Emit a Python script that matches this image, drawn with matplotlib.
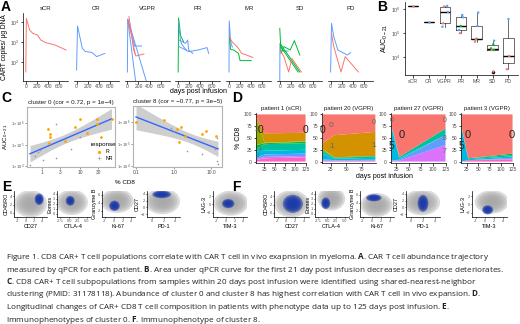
import numpy as np
import matplotlib.pyplot as plt
from matplotlib.patches import Ellipse

plt.rcParams['font.family'] = ['Liberation Sans', 'DejaVu Sans']
plt.rcParams['mathtext.fontset'] = 'custom'
plt.rcParams['mathtext.rm'] = 'Liberation Sans'
plt.rcParams['mathtext.it'] = 'Liberation Sans:italic'
plt.rcParams['mathtext.bf'] = 'Open Sans:bold'

RED, GREEN, BLUE = '#F8766D', '#00BA38', '#619CFF'
GREY_TXT = '#4D4D4D'

# ---------------- A: qPCR trajectories (day, log10 copies) ----------------
traj_scr = [(RED, [0, 11, 69, 126, 211, 269, 354, 526, 725],
             [1.5, 4.18, 3.6, 3.43, 3.35, 3.1, 2.97, 2.85, 2.6])]
traj_cr = [(BLUE, [0, 17, 103, 160, 274, 330, 360, 510],
            [1.6, 3.8, 2.68, 2.52, 2.48, 2.35, 2.27, 2.43])]
traj_vgpr = [(BLUE, [0, 7, 345], [1.5, 4.15, 1.0]),
             (BLUE, [7, 150], [4.1, 1.0]),
             (BLUE, [10, 130, 257], [4.1, 2.8, 2.8]),
             (RED, [28, 57, 114, 154, 297], [4.27, 3.77, 2.6, 2.3, 2.4]),
             (RED, [7, 70, 140], [4.0, 3.4, 2.4])]
traj_pr = [(GREEN, [0, 7, 45, 100], [1.5, 4.2, 3.3, 3.0]),
           (BLUE, [5, 40, 60, 100, 150], [4.0, 3.1, 2.9, 2.75, 2.6]),
           (BLUE, [17, 188, 360, 520, 548], [2.77, 2.52, 2.6, 2.72, 2.43]),
           (BLUE, [17, 131, 171, 188, 263], [3.1, 2.93, 3.1, 2.6, 2.43])]
traj_mr = [(BLUE, [0, 5, 30, 60], [1.5, 4.05, 3.0, 2.75]),
           (GREEN, [10, 29, 86, 171, 200, 400], [3.2, 2.63, 2.6, 2.43, 2.07, 2.07]),
           (RED, [5, 57, 114, 171, 228, 314, 428], [3.27, 3.0, 2.85, 2.68, 2.43, 2.35, 2.23])]
traj_sd = [(BLUE, [0, 3, 60, 150], [1.0, 2.9, 2.55, 2.55]),
           (GREEN, [0, 23, 74, 188, 263, 360], [3.68, 2.43, 2.77, 2.6, 3.07, 2.35]),
           (GREEN, [6, 360], [2.93, 1.5]),
           (GREEN, [17, 330], [2.77, 1.5]),
           (RED, [6, 74, 160, 217, 388], [2.6, 2.27, 1.5, 2.18, 1.5])]
traj_pd = [(BLUE, [0, 17, 57, 131, 245, 303, 360], [1.5, 3.93, 3.27, 2.6, 2.43, 2.35, 2.47]),
           (RED, [17, 57, 188, 263, 500], [3.43, 2.77, 1.5, 2.27, 1.5])]
a_names = ['sCR', 'CR', 'VGPR', 'PR', 'MR', 'SD', 'PD']
a_trajs = [traj_scr, traj_cr, traj_vgpr, traj_pr, traj_mr, traj_sd, traj_pd]

# ---------------- B: AUC (log10) by response ----------------
auc_cats = ['sCR', 'CR', 'VGPR', 'PR', 'MR', 'SD', 'PD']
auc_vals = [[6.12], [5.47], [6.125, 6.1, 5.875, 5.40, 5.26],
            [5.75, 5.65, 5.29, 5.125, 4.99], [5.85, 5.29, 4.76, 4.74, 4.64],
            [4.68, 4.53, 4.36, 4.29, 4.29, 3.39], [5.58, 4.04, 3.49]]
auc_cols = [[RED], [BLUE], [BLUE, RED, BLUE, RED, BLUE],
            [BLUE, BLUE, GREEN, BLUE, RED], [BLUE, BLUE, GREEN, RED, RED],
            [BLUE, GREEN, GREEN, GREEN, RED, RED], [BLUE, RED, RED]]
auc_jit = [[0.0], [0.0], [0.15, -0.05, 0.2, -0.1, -0.15],
           [0.1, 0.15, 0.0, -0.1, -0.05], [0.1, 0.05, 0.0, -0.05, -0.1],
           [0.1, 0.05, -0.1, 0.1, -0.05, 0.05], [0.0, 0.05, -0.1]]

# ---------------- C: % CD8 vs AUC ----------------
c0_r_x = [1.41, 1.62, 1.62, 1.53, 10, 7.4, 27.5, 27.5, 15, 4.0, 35, 68]
c0_r_y = [5.71, 5.49, 5.33, 5.05, 6.17, 5.83, 6.17, 5.94, 5.53, 5.15, 5.33, 6.2]
c0_n_x = [2.4, 0.48, 1.08, 0.89, 2.33, 5.7, 10, 0.78, 0.65]
c0_n_y = [5.94, 4.05, 4.29, 4.73, 4.35, 4.8, 5.33, 4.64, 4.45]
c8_r_x = [0.1, 0.56, 1.53, 1.25, 1.38, 2.07, 5.7, 7.4, 13.5]
c8_r_y = [6.03, 6.09, 5.79, 5.68, 5.12, 5.36, 5.45, 5.6, 5.38]
c8_n_x = [0.83, 1.02, 2.3, 5.7, 12.7, 14, 15.2, 14.4]
c8_n_y = [5.76, 5.6, 4.7, 4.55, 4.77, 4.24, 4.09, 5.27]

# ---------------- D: cluster composition (%), clusters 0..8 ----------------
clus_cols = ['#F8766D', '#D39200', '#93AA00', '#00BA38', '#00C19F',
             '#00B9E3', '#619CFF', '#DB72FB', '#FF61C3']
d_titles = ['patient 1 (sCR)', 'patient 20 (VGPR)', 'patient 27 (VGPR)', 'patient 3 (VGPR)']
d_days = [[6, 26, 125], [12, 31, 97], [15, 31, 125], [13, 28, 125]]
d_comp = [
    [[5, 40, 39], [5, 20, 18], [55, 1, 1], [8, 2, 3], [5, 14, 14],
     [14, 8, 8], [3, 5, 5], [2, 3, 3], [3, 7, 9]],
    [[61, 44, 37], [12, 47, 51], [3, 0, 0], [2, 1, 1], [5, 2, 3],
     [12, 3, 4], [3, 1, 2], [1, 0.5, 0.5], [1, 1.5, 1.5]],
    [[25, 90, 30], [0, 0, 0], [0, 0, 0], [0, 0, 0], [3, 3, 14],
     [70, 3, 0], [0, 2, 21], [0, 2, 35], [2, 0, 0]],
    [[25, 93, 83], [0, 0, 0], [0, 0, 0], [0, 0, 3], [2, 2, 3],
     [73, 2, 3], [0, 0, 2], [0, 0, 2], [0, 3, 4]],
]
# text labels: (day, %, label, size)
d_labels = [
    [(7, 67, '2', 6), (16, 67, '0', 7.5), (124, 67, '0', 7.5), (15, 28, '1', 4), (7, 13, '5', 4)],
    [(12, 67, '0', 7.5), (26, 77, '0', 6), (95, 83, '0', 5), (26, 32, '1', 6), (95, 35, '1', 6)],
    [(15, 88, '0', 5), (15, 32, '5', 7.5), (36, 56, '0', 8), (124, 88, '0', 5), (124, 49, '8', 5), (124, 21, '7', 5)],
    [(13, 32, '5', 7.5), (27, 56, '0', 8), (123, 56, '0', 8)],
]

# ---------------- E/F: immunophenotype clouds ----------------
ef_x = ['CD27', 'CTLA-4', 'Ki-67', 'PD-1', 'TIM-3']
ef_y = ['CD45RO', 'Eomes', 'Granzyme B', 'CD27', 'LAG-3']
ef_xlim = [(-2.8, 5.2), (-3.5, 6.0), (-2.6, 4.8), (-0.8, 4.8), (-2.8, 4.8)]
ef_ylim = [(-1.0, 5.3), (-0.7, 4.6), (0.5, 7.0), (-2.8, 4.8), (-3.0, 3.2)]
ef_xt = [[-2, 0, 2, 4], [-2.5, 0, 2.5, 5], [-2, 0, 2, 4], [0, 2, 4], [-2, 0, 2, 4]]
ef_xtl = [['-2', '0', '2', '4'], ['-2.5', '0.0', '2.5', '5.0'], ['-2', '0', '2', '4'],
          ['0', '2', '4'], ['-2', '0', '2', '4']]
ef_yt = [[0, 2, 4], [0, 1, 2, 3, 4], [2, 4, 6], [-2, 0, 2, 4], [-2, 0, 2]]
e_grey = [(1.2, 2.2, 4.0, 3.3), (0.8, 2.3, 4.6, 2.6), (0.8, 4.5, 3.7, 3.0),
          (1.8, 1.8, 3.0, 3.8), (1.2, 0.3, 3.9, 3.0)]
e_blue = [(3.3, 3.3, 1.1, 1.4), (0.3, 2.6, 1.3, 1.0), (0.2, 3.3, 1.2, 1.3),
          (1.7, 3.8, 1.6, 1.1), (0.6, 0.2, 1.4, 1.1)]
f_grey = [(1.2, 2.2, 4.0, 3.3), (1.2, 3.0, 4.0, 2.4), (1.0, 3.5, 3.5, 3.0),
          (1.8, 1.5, 3.0, 3.8), (1.5, 0.6, 3.7, 2.8)]
f_blue = [(1.5, 2.2, 2.3, 2.2), (-0.4, 2.1, 1.3, 1.2), (0.4, 5.3, 1.7, 0.9),
          (2.0, 1.2, 0.9, 2.5), (0.6, -1.3, 1.2, 1.1)]

caption = [
    r'Figure 1. CD8 CAR+ T cell populations correlate with CAR T cell in vivo exapnsion in myeloma. $\mathbf{A}$. CAR T cell abundance trajectory',
    r'measured by qPCR for each patient. $\mathbf{B}$. Area under qPCR curve for the first 21 day post infusion decreases as response deteriorates.',
    r'$\mathbf{C}$. CD8 CAR+ T cell subpopulations from samples within 20 days post infusion were identified using shared-nearest-neighbor',
    r'clustering (PMID: 31178118). Abundance of cluster 0 and cluster 8 has highest correlation with CAR T cell in vivo expansion. $\mathbf{D}$.',
    r'Longitudinal changes of CAR+ CD8 T cell composition in patients with phenotype data up to 125 days post infusion. $\mathbf{E}$.',
    r'Immunophenotypes of cluster 0. $\mathbf{F}$. Immunophenotype of cluster 8.',
]

W, H = 520, 324
fig = plt.figure(figsize=(W / 100, H / 100), dpi=100)


def add_ax(x0, y0, x1, y1):
    return fig.add_axes([x0 / W, 1 - y1 / H, (x1 - x0) / W, (y1 - y0) / H])


def classic(ax, fs=4.5):
    for s in ['top', 'right']:
        ax.spines[s].set_visible(False)
    for s in ['left', 'bottom']:
        ax.spines[s].set_linewidth(0.5)
    ax.tick_params(length=1.8, width=0.5, labelsize=fs, pad=1, labelcolor=GREY_TXT)


def letter(x, y, s):
    fig.text(x / W, 1 - y / H, s, fontsize=10, fontweight='bold', va='top', ha='left')


# ---- A ----
letter(1, 0, 'A')
for i, (name, lines) in enumerate(zip(a_names, a_trajs)):
    x0 = 23 + i * 50.8
    ax = add_ax(x0, 13, x0 + 45, 81)
    for col, d, v in lines:
        ax.plot(d, 10 ** np.array(v), color=col, lw=0.7)
    ax.set_yscale('log')
    ax.set_ylim(10 ** 1.05, 10 ** 4.45)
    ax.set_xlim(-50, 760)
    ax.set_xticks([0, 200, 400, 600])
    ax.minorticks_off()
    classic(ax, 3.6)
    ax.tick_params(axis='x', pad=0.6)
    ax.set_title(name, fontsize=4.3, pad=2, color='#1A1A1A')
    if i == 0:
        ax.set_yticks([1e2, 1e3, 1e4], [r'$10^{2}$', r'$10^{3}$', r'$10^{4}$'])
        ax.set_ylabel('CART copies/ μg DNA', fontsize=4.8, labelpad=1)
    else:
        ax.spines['left'].set_visible(False)
        ax.set_yticks([])
fig.text(199 / W, 1 - 92 / H, 'days post infusion', fontsize=5, ha='center', va='center')

# ---- B ----
letter(377, 0, 'B')
ax = add_ax(405, 2, 518, 75)
ax.boxplot(auc_vals, positions=range(len(auc_cats)), widths=0.65, showcaps=False,
           medianprops=dict(color='black', lw=1.0),
           boxprops=dict(color='#333333', lw=0.5),
           whiskerprops=dict(color='#333333', lw=0.5),
           flierprops=dict(marker='o', markerfacecolor='black', markeredgecolor='none', markersize=2.5))
for i, (vals, cols, jit) in enumerate(zip(auc_vals, auc_cols, auc_jit)):
    ax.scatter(np.array(jit) + i, vals, c=cols, s=3, zorder=3, linewidths=0)
ax.set_xlim(-0.5, 6.6)
ax.set_ylim(3.25, 6.29)
ax.set_xticks(range(len(auc_cats)), auc_cats)
ax.set_yticks([4, 5, 6], [r'$10^{4}$', r'$10^{5}$', r'$10^{6}$'])
classic(ax, 3.8)
ax.set_ylabel(r'AUC$_{0-21}$', fontsize=5, labelpad=1)

# ---- C ----
letter(1, 91, 'C')


def corr_panel(ax, rx, ry, nx, ny, title, xlim, xticks, xtl):
    lx = np.log10(np.r_[rx, nx])
    ly = np.r_[ry, ny]
    b, a = np.polyfit(lx, ly, 1)
    n = len(lx)
    resid = ly - (a + b * lx)
    s = np.sqrt(np.sum(resid ** 2) / (n - 2))
    gx = np.linspace(lx.min(), lx.max(), 80)
    se = s * np.sqrt(1 / n + (gx - lx.mean()) ** 2 / np.sum((lx - lx.mean()) ** 2))
    fit = a + b * gx
    ax.fill_between(10 ** gx, fit - 2.07 * se, fit + 2.07 * se, color='#BEBEBE', alpha=0.75, lw=0)
    ax.plot(10 ** gx, fit, color='#3366FF', lw=1.0)
    ax.scatter(rx, ry, color='#FFA500', s=4, linewidths=0, zorder=3, label='R')
    ax.scatter(nx, ny, color='#999999', s=4, marker='+', linewidths=0.4, zorder=3, label='NR')
    ax.set_xscale('log')
    ax.set_xlim(*xlim)
    ax.set_ylim(3.95, 6.75)
    ax.set_xticks(xticks, xtl)
    ax.minorticks_off()
    ax.set_yticks([4, 5, 6], [r'$1\times10^{4}$', r'$1\times10^{5}$', r'$1\times10^{6}$'])
    for sp in ax.spines.values():
        sp.set_color('#B3B3B3')
        sp.set_linewidth(0.8)
    ax.tick_params(length=1.2, width=0.4, labelsize=2.8, pad=0.8, labelcolor=GREY_TXT, color='#4D4D4D')
    ax.tick_params(axis='x', labelsize=3.5)
    ax.set_title(title, fontsize=4.5, pad=2, color='#1A1A1A')


ax = add_ax(27, 107, 115, 167)
corr_panel(ax, c0_r_x, c0_r_y, c0_n_x, c0_n_y, 'cluster 0 (cor = 0.72, p = 1e\u22124)',
           (0.4, 84), [1, 3, 10, 30], ['1', '3', '10', '30'])
ax.set_ylabel(r'AUC$_{0-21}$', fontsize=4.5, labelpad=0.5)
lg = ax.legend(title='response', loc='upper left', bbox_to_anchor=(0.68, 0.47), frameon=False,
               fontsize=3.8, title_fontsize=4.5, handletextpad=0.2, labelspacing=0.3,
               markerscale=1.2, borderpad=0.2)
ax = add_ax(133, 106, 222, 167)
corr_panel(ax, c8_r_x, c8_r_y, c8_n_x, c8_n_y, 'cluster 8 (cor = \u22120.77, p = 3e\u22125)',
           (0.083, 19.5), [0.1, 1, 10], ['0.1', '1.0', '10.0'])
fig.text(125 / W, 1 - 182 / H, '% CD8', fontsize=4.5, ha='center', va='center')

# ---- D ----
letter(232, 91, 'D')
d_x = [(256, 306), (322, 376), (391, 446), (461, 513)]
for i in range(4):
    ax = add_ax(d_x[i][0], 113, d_x[i][1], 163)
    ax.stackplot(d_days[i], d_comp[i][::-1], colors=clus_cols[::-1], lw=0)
    for dx, dy, t, sz in d_labels[i]:
        ax.text(dx, dy, t, fontsize=sz, ha='center', va='center',
                color='#222222' if sz >= 7 else '#666666')
    ax.set_xlim(d_days[i][0] - 1, d_days[i][-1] + 1)
    ax.set_ylim(-3, 103)
    ticks = [t for t in [25, 50, 75, 100, 125] if t <= d_days[i][-1] + 1]
    ax.set_xticks(ticks)
    ax.set_yticks([0, 25, 50, 75, 100])
    classic(ax, 3.6)
    ax.set_title(d_titles[i], fontsize=4.3, pad=2, color='#1A1A1A')
    if i == 0:
        ax.set_ylabel('% CD8', fontsize=5, labelpad=1)
fig.text(385 / W, 1 - 177 / H, 'days post infusion', fontsize=5, ha='center', va='center')

# ---- E / F ----


def blob(ax, spec, color, alpha):
    cx, cy, sx, sy = spec
    for k in (1.0, 0.85, 0.7, 0.55, 0.4, 0.25):
        ax.add_patch(Ellipse((cx, cy), 2 * sx * k, 2 * sy * k, fc=color, ec='none', alpha=alpha))


letter(2, 180, 'E')
letter(232, 180, 'F')
e_x = [(14, 47), (57, 90), (102, 135), (147, 180), (213, 247)]
f_x = [(274, 309), (315, 348), (360, 394), (406, 440), (472, 507)]
for grp, xs, greys, blues in [('E', e_x, e_grey, e_blue), ('F', f_x, f_grey, f_blue)]:
    for i in range(5):
        ax = add_ax(xs[i][0], 191, xs[i][1], 217)
        blob(ax, greys[i], '#A6A6A6', 0.4)
        blob(ax, blues[i], '#1C3AA9', 0.55)
        ax.set_xlim(*ef_xlim[i])
        ax.set_ylim(*ef_ylim[i])
        ax.set_xticks(ef_xt[i], ef_xtl[i])
        ax.set_yticks(ef_yt[i])
        classic(ax, 2.8)
        ax.tick_params(length=1.0, pad=0.5)
        ax.set_xlabel(ef_x[i], fontsize=4, labelpad=0.5)
        ax.set_ylabel(ef_y[i], fontsize=4, labelpad=0.3)

# ---- caption ----
for k, line in enumerate(caption):
    fig.text(6 / W, 1 - (257 + 12.5 * k) / H, line, fontsize=5.9, family='Open Sans',
             va='center', ha='left', color='#222222')

fig.savefig('out.png', dpi=100)
